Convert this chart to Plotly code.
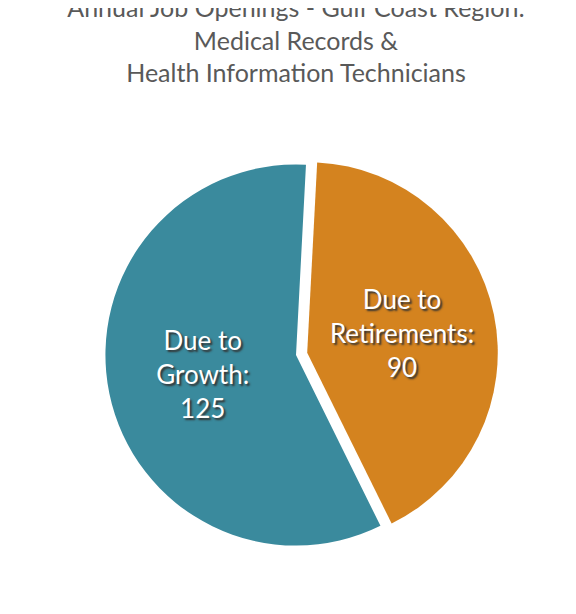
import plotly.graph_objects as go

labels = ["Due to<br>Retirements:", "Due to<br>Growth:"]
values = [90, 125]
colors = ["#D4831F", "#3A8A9D"]
pulls = [0.06, 0]

fig = go.Figure(go.Pie(
    labels=labels, values=values, sort=False, direction="clockwise", rotation=3,
    pull=pulls, marker=dict(colors=colors, line=dict(color="white", width=0)),
    texttemplate="%{label}<br>%{value}", textinfo="text", textposition="inside",
    insidetextorientation="horizontal",
    textfont=dict(family="Lato", size=26, color="white",
                  shadow="2px 2px 2px #333"),
    hoverinfo="skip", showlegend=False,
))
fig.update_layout(
    width=576, height=614,
    paper_bgcolor="white",
    margin=dict(l=60, r=60, t=145, b=65),
    title=dict(text="Annual Job Openings - Gulf Coast Region:<br>Medical Records &<br>Health Information Technicians",
               x=0.5, y=0.985, yref="container", xanchor="center", yanchor="top",
               font=dict(family="Lato", size=25, color="#595959")),
)
fig.write_html("out.html")
